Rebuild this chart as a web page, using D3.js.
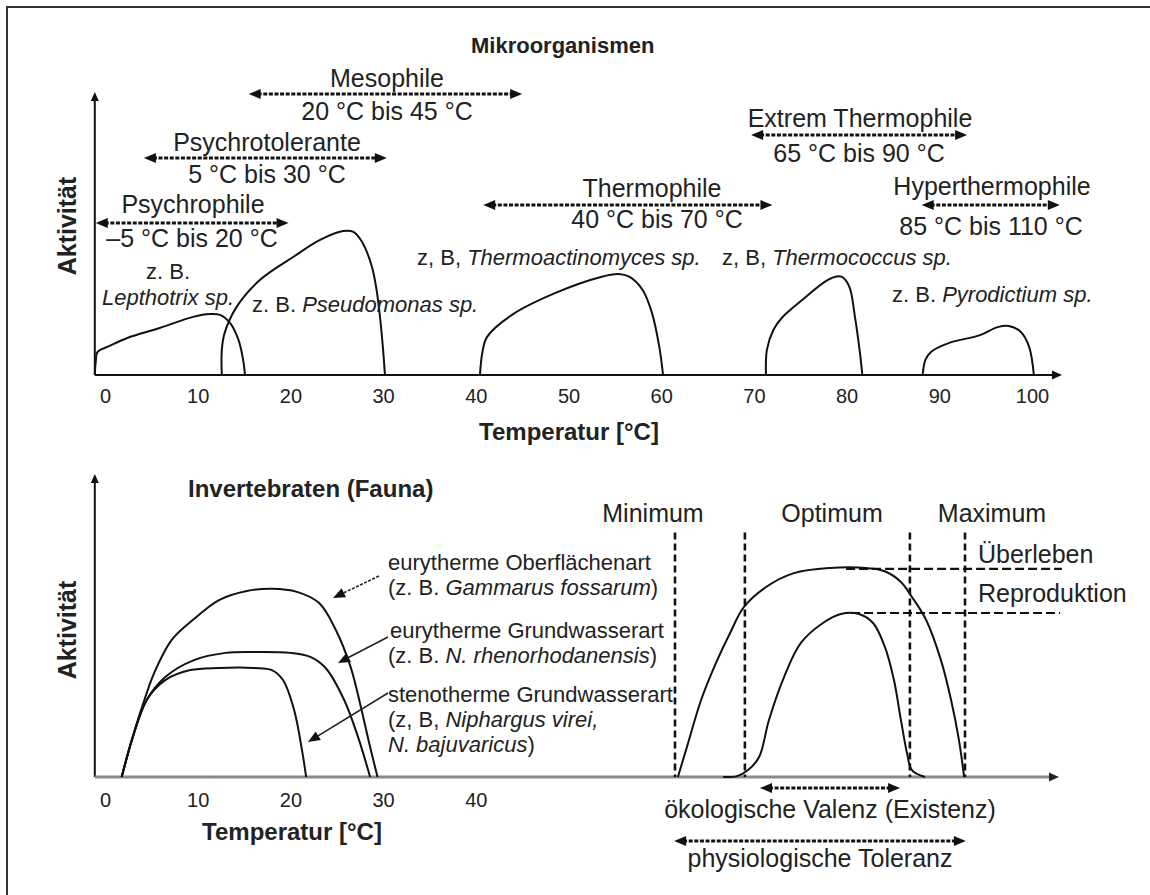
<!DOCTYPE html>
<html><head><meta charset="utf-8">
<script src="https://cdn.jsdelivr.net/npm/d3@7"></script>
<style>
body{margin:0;background:#fff}
svg{display:block}
text{font-family:"Liberation Sans",Arial,sans-serif;fill:#222}
</style>
</head><body>
<svg id="c" width="1150" height="895"></svg>
<script>
// ---------------- DATA ----------------
const tickTop = [0,10,20,30,40,50,60,70,80,90,100];
const tickBottom = [0,10,20,30,40];

const rangeNames = ["Psychrophile","Psychrotolerante","Mesophile","Thermophile","Extrem Thermophile","Hyperthermophile"];
const rangeTexts = ["–5 °C bis 20 °C","5 °C bis 30 °C","20 °C bis 45 °C","40 °C bis 70 °C","65 °C bis 90 °C","85 °C bis 110 °C"];
const rangeFrom = [-1.0, 4.2, 15.5, 40.8, 69.7, 88.1];
const rangeTo   = [19.8, 30.4, 45.0, 72.0, 93.0, 103.0];

// activity curves (temperature °C, relative activity)
const curveLepthotrix = [[-1.1,0],[-1.0,4.6],[-0.8,8.1],[0.5,10.2],[2.4,13],[5.9,16.5],[9.5,20.4],[11.3,21.4],[12.4,21.1],[13.5,18.2],[14.4,12.3],[14.9,5.3],[15.1,0]];
const curvePseudomonas = [[12.6,0],[12.6,8.8],[12.9,14.7],[14.2,23.9],[16.7,33.3],[20.3,41.4],[23.2,47.4],[25.7,50.5],[26.8,50.2],[27.8,46.3],[28.8,37.9],[29.3,29.8],[29.7,19.3],[30.0,8.8],[30.2,0]];
const curveThermoact = [[40.45,0],[40.7,7.7],[41.2,13.3],[43.9,21.1],[48.6,28.8],[53.5,34.4],[55.4,35.4],[56.6,34.4],[58.0,29.8],[59.0,21.8],[59.8,9.8],[60.2,0]];
const curveThermococcus = [[71.3,0],[71.4,8.8],[72.1,15.8],[73.0,20.0],[75.2,26.3],[77.6,32.6],[78.7,34.4],[79.5,34.4],[80.3,30.9],[80.9,20.4],[81.4,8.8],[81.7,0]];
const curvePyrodictium = [[88.2,0],[88.5,5.3],[89.1,8.1],[91.0,11.2],[94.4,14.0],[96.3,16.8],[97.5,17.2],[98.8,15.1],[99.7,9.8],[100.2,0]];

const curveGammarus = [[1.8,0],[2.8,11.3],[4.0,23.2],[5.3,34.4],[7.2,45.4],[9.6,52.3],[12.3,58.6],[15.3,61.6],[18.0,62.3],[20.7,61.3],[23.1,57.6],[24.9,48.7],[26.5,36.4],[27.6,23.2],[28.6,9.9],[29.4,0]];
const curveRheno = [[1.8,0],[3.0,13.2],[4.5,25.5],[6.5,33.1],[9.6,38.7],[13.0,41.1],[16.1,41.4],[20.0,41.1],[22.2,39.7],[23.8,36.1],[25.8,25.5],[27.3,13.2],[28.6,0]];
const curveVirei = [[1.8,0],[3.0,13.2],[4.5,25.5],[6.5,32.1],[9.2,35.4],[12.3,36.1],[16.1,36.1],[18.0,35.4],[19.2,32.1],[20.4,22.2],[21.25,8.9],[21.7,0]];

// schematic tolerance curves (0 = Minimum, 100 = Maximum)
const curveSurvival = [[1.0,0],[4.1,9.9],[9.0,25.5],[14.1,37.7],[19.0,47.7],[23.8,56.3],[31.4,62.9],[41.0,67.5],[53.4,69.2],[65.9,69.2],[72.1,68.2],[77.9,64.6],[81.7,59.6],[86.6,52.0],[91.7,38.7],[95.2,25.5],[97.9,12.3],[99.7,0]];
const curveReproduction = [[16.6,0],[21.4,0.3],[25.2,2.3],[29.0,6.6],[32.4,18.9],[37.6,33.1],[43.4,44.4],[51.0,51.0],[57.2,54.0],[63.4,54.0],[68.3,51.0],[72.4,43.0],[75.5,32.1],[77.9,18.9],[80.0,7.9],[81.7,2.3],[86.2,0]];
const markerPos = [0, 24.1, 81.0, 100];          // Minimum | Optimum | Optimum | Maximum
const markerTop = 81;
const levelSurvival = 68.9, levelReproduction = 54.3;
const levelFrom = [59, 60.7], levelTo = [133.4, 132.8];
const valenzRange = [29.3, 77.6];
const toleranzRange = [-0.3, 100.3];

// ---------------- LAYOUT ----------------
const svg = d3.select("#c");
const F = {ann:25, sp:22, tick:20, bold:24};
const x = d3.scaleLinear().domain([0,100]).range([105,1032]);
const yT = d3.scaleLinear().domain([0,100]).range([375,90]);
const yB = d3.scaleLinear().domain([0,100]).range([777,475]);
const xS = d3.scaleLinear().domain([0,100]).range([675,965]);
const axisX0 = x(-1.1);

function txt(g, px, py, s, o={}) {
  const t = g.append("text").attr("x",px).attr("y",py)
    .attr("font-size",o.size||F.ann).attr("text-anchor",o.anchor||"start");
  if (o.bold) t.attr("font-weight","bold");
  if (Array.isArray(s)) s.forEach(p=>t.append("tspan").attr("font-style",p.i?"italic":null).text(p.t));
  else t.text(s);
  return t;
}
function head(g, tx, ty, ang, len=11, hw=5, fill="#111") {
  const c=Math.cos(ang), s=Math.sin(ang);
  const bx=tx-c*len, by=ty-s*len;
  g.append("path").attr("d",`M${tx},${ty}L${bx-s*hw},${by+c*hw}L${bx+s*hw},${by-c*hw}Z`).attr("fill",fill);
}
function dArrow(g, x1, x2, yy) {
  g.append("line").attr("x1",x1+9).attr("x2",x2-9).attr("y1",yy).attr("y2",yy)
    .attr("stroke","#111").attr("stroke-width",3).attr("stroke-dasharray","4,1.6");
  head(g,x1,yy,Math.PI,12,5); head(g,x2,yy,0,12,5);
}
const line = (xs,ys)=>d3.line().x(d=>xs(d[0])).y(d=>ys(d[1])).curve(d3.curveCatmullRom.alpha(0.5));

// frame
svg.append("path").attr("d","M7,895V7H1150").attr("fill","none").attr("stroke","#333").attr("stroke-width",2);

// ========== TOP PANEL ==========
const gT = svg.append("g");
txt(gT, 471, 53, "Mikroorganismen", {bold:true, size:22});
gT.append("line").attr("x1",axisX0).attr("x2",axisX0).attr("y1",yT(0)).attr("y2",100).attr("stroke","#111").attr("stroke-width",2);
head(gT, axisX0, 92, -Math.PI/2, 9, 4);
gT.append("line").attr("x1",axisX0).attr("x2",1052).attr("y1",yT(0)).attr("y2",yT(0)).attr("stroke","#111").attr("stroke-width",2);
head(gT, 1062, yT(0), 0, 10, 4.5);
const axT = gT.append("g").attr("transform",`translate(0,${yT(0)})`)
  .call(d3.axisBottom(x).tickValues(tickTop).tickSize(0).tickPadding(14).tickFormat(d3.format("d")));
axT.select(".domain").remove();
axT.selectAll("text").attr("font-size",F.tick).attr("font-family","Liberation Sans, Arial, sans-serif").attr("fill","#222");
txt(gT, 569, 440, "Temperatur [°C]", {bold:true, size:F.bold, anchor:"middle"});
gT.append("text").attr("transform","translate(67,226) rotate(-90)").attr("text-anchor","middle")
  .attr("dominant-baseline","central").attr("font-size",25).attr("font-weight","bold").text("Aktivität");

const rangeLayout = [
  {ay:223, nx:193, ny:213, rx:192, ry:247},
  {ay:158, nx:267, ny:151, rx:267, ry:183},
  {ay:94,  nx:387, ny:87,  rx:387, ry:120},
  {ay:205, nx:652, ny:197, rx:657, ry:228},
  {ay:135, nx:860, ny:127, rx:859, ry:162},
  {ay:205, nx:992, ny:195, rx:991, ry:235}
];
rangeNames.forEach((n,i)=>{
  const L = rangeLayout[i];
  dArrow(gT, x(rangeFrom[i]), x(rangeTo[i]), L.ay);
  txt(gT, L.nx, L.ny, n, {anchor:"middle"});
  txt(gT, L.rx, L.ry, rangeTexts[i], {anchor:"middle"});
});

[curveLepthotrix, curvePseudomonas, curveThermoact, curveThermococcus, curvePyrodictium].forEach(c=>{
  gT.append("path").attr("d",line(x,yT)(c)).attr("fill","none").attr("stroke","#111").attr("stroke-width",2);
});

txt(gT, 168, 279, "z. B.", {size:F.sp, anchor:"middle"});
txt(gT, 168, 305, [{t:"Lepthotrix sp.", i:true}], {size:F.sp, anchor:"middle"});
const ps = txt(gT, 252, 312, [{t:"z. B. "},{t:"Pseudomonas sp.", i:true}], {size:F.sp});
const bb = ps.node().getBBox();
gT.insert("rect", "text").attr("x",bb.x+bb.width*0.5).attr("y",bb.y+3).attr("width",bb.width*0.2).attr("height",bb.height-4).attr("fill","#fff");
ps.raise();
txt(gT, 417, 265, [{t:"z, B, "},{t:"Thermoactinomyces sp.", i:true}], {size:F.sp});
txt(gT, 722, 265, [{t:"z, B, "},{t:"Thermococcus sp.", i:true}], {size:F.sp});
txt(gT, 892, 302, [{t:"z. B. "},{t:"Pyrodictium sp.", i:true}], {size:F.sp});

// ========== BOTTOM PANEL ==========
const gB = svg.append("g");
txt(gB, 188, 497, "Invertebraten (Fauna)", {bold:true, size:24});
gB.append("line").attr("x1",axisX0).attr("x2",axisX0).attr("y1",yB(0)).attr("y2",482).attr("stroke","#111").attr("stroke-width",2);
head(gB, axisX0, 474, -Math.PI/2, 9, 4);
gB.append("line").attr("x1",axisX0).attr("x2",1050).attr("y1",yB(0)).attr("y2",yB(0)).attr("stroke","#8a8a8a").attr("stroke-width",3);
head(gB, 1059, yB(0), 0, 10, 4.5, "#222");
const axB = gB.append("g").attr("transform",`translate(0,${yB(0)})`)
  .call(d3.axisBottom(x).tickValues(tickBottom).tickSize(0).tickPadding(16).tickFormat(d3.format("d")));
axB.select(".domain").remove();
axB.selectAll("text").attr("font-size",F.tick).attr("font-family","Liberation Sans, Arial, sans-serif").attr("fill","#222");
txt(gB, 292, 840, "Temperatur [°C]", {bold:true, size:F.bold, anchor:"middle"});
gB.append("text").attr("transform","translate(67,630) rotate(-90)").attr("text-anchor","middle")
  .attr("dominant-baseline","central").attr("font-size",25).attr("font-weight","bold").text("Aktivität");

[curveGammarus, curveRheno, curveVirei].forEach(c=>{
  gB.append("path").attr("d",line(x,yB)(c)).attr("fill","none").attr("stroke","#111").attr("stroke-width",2);
});

txt(gB, 388, 570, "eurytherme Oberflächenart", {size:F.sp});
txt(gB, 388, 595, [{t:"(z. B. "},{t:"Gammarus fossarum",i:true},{t:")"}], {size:F.sp});
txt(gB, 390, 638, "eurytherme Grundwasserart", {size:F.sp});
txt(gB, 388, 663, [{t:"(z. B. "},{t:"N. rhenorhodanensis",i:true},{t:")"}], {size:F.sp});
txt(gB, 388, 702, "stenotherme Grundwasserart", {size:F.sp});
txt(gB, 388, 727, [{t:"(z, B, "},{t:"Niphargus virei,",i:true}], {size:F.sp});
txt(gB, 388, 752, [{t:"N. bajuvaricus",i:true},{t:")"}], {size:F.sp});

const leaders = [[379,576,333,598,"3,1.5"],[388,637,338,663,null],[388,693,308,742,null]];
leaders.forEach(([x1,y1,x2,y2,da])=>{
  const ang = Math.atan2(y2-y1,x2-x1);
  gB.append("line").attr("x1",x1).attr("y1",y1).attr("x2",x2-Math.cos(ang)*8).attr("y2",y2-Math.sin(ang)*8)
    .attr("stroke","#222").attr("stroke-width",1.6).attr("stroke-dasharray",da);
  head(gB, x2, y2, ang, 12, 5);
});

markerPos.forEach(m=>{
  gB.append("line").attr("x1",xS(m)).attr("x2",xS(m)).attr("y1",yB(markerTop)).attr("y2",yB(0))
    .attr("stroke","#111").attr("stroke-width",2.6).attr("stroke-dasharray","7,4");
});
[levelSurvival, levelReproduction].forEach((lv,i)=>{
  gB.append("line").attr("x1",xS(levelFrom[i])).attr("x2",xS(levelTo[i])).attr("y1",yB(lv)).attr("y2",yB(lv))
    .attr("stroke","#111").attr("stroke-width",2.2).attr("stroke-dasharray","9,4");
});
[curveSurvival, curveReproduction].forEach(c=>{
  gB.append("path").attr("d",line(xS,yB)(c)).attr("fill","none").attr("stroke","#111").attr("stroke-width",2);
});
txt(gB, 653, 522, "Minimum", {anchor:"middle"});
txt(gB, 832, 522, "Optimum", {anchor:"middle"});
txt(gB, 992, 522, "Maximum", {anchor:"middle"});
txt(gB, 978, 563, "Überleben");
txt(gB, 978, 602, "Reproduktion");
dArrow(gB, xS(valenzRange[0]), xS(valenzRange[1]), 788);
txt(gB, 830, 818, "ökologische Valenz (Existenz)", {anchor:"middle"});
dArrow(gB, xS(toleranzRange[0]), xS(toleranzRange[1]), 841);
txt(gB, 820, 867, "physiologische Toleranz", {anchor:"middle"});
</script>
</body></html>
